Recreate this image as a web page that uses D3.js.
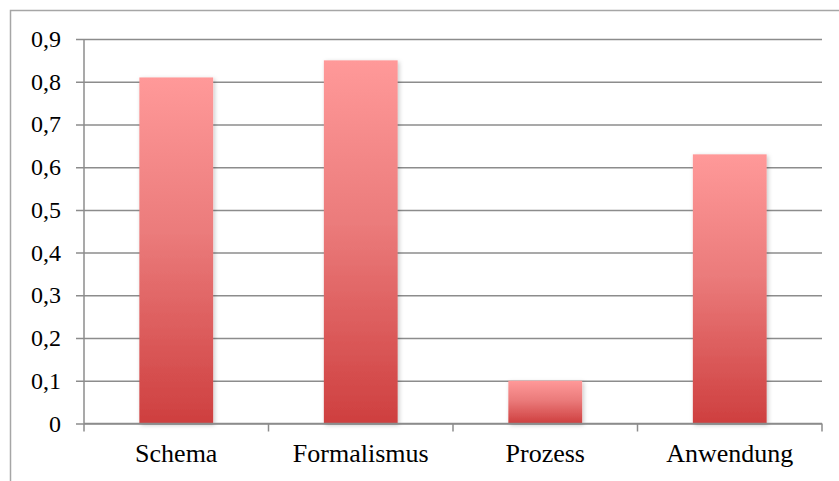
<!DOCTYPE html>
<html>
<head>
<meta charset="utf-8">
<script src="https://cdn.jsdelivr.net/npm/d3@7"></script>
<style>
  html, body { margin: 0; padding: 0; background: #fff; font-family: 'Liberation Serif', serif; }
  #wrap { position: relative; width: 839px; height: 481px; overflow: hidden; }
  svg { display: block; position: absolute; left: 0; top: 0; }
</style>
</head>
<body>
<div id="wrap"><svg id="chart" width="839" height="481"></svg></div>
<script>
// Bar chart data
const categories = ["Schema", "Formalismus", "Prozess", "Anwendung"];
const values = [0.81, 0.85, 0.10, 0.63];
const yTicks = [0, 0.1, 0.2, 0.3, 0.4, 0.5, 0.6, 0.7, 0.8, 0.9];

const W = 839, H = 481;
const plot = { left: 84, right: 822, top: 39, bottom: 423.5 };
const LABEL_CSS = "position:absolute;font-family:'Liberation Serif','Times New Roman',serif;" +
                  "color:#000;line-height:1;white-space:nowrap;";

const wrap = d3.select("#wrap");
const svg = d3.select("#chart");

// Gradient fill and soft shadow for the bars
const defs = svg.append("defs");
const grad = defs.append("linearGradient")
  .attr("id", "barFill").attr("x1", 0).attr("y1", 0).attr("x2", 0).attr("y2", 1);
grad.append("stop").attr("offset", "0%").attr("stop-color", "#FF9999");
grad.append("stop").attr("offset", "45%").attr("stop-color", "#EB7B7B");
grad.append("stop").attr("offset", "100%").attr("stop-color", "#CE3F3F");

const shadow = defs.append("filter").attr("id", "barShadow")
  .attr("x", "-20%").attr("y", "-10%").attr("width", "140%").attr("height", "130%");
shadow.append("feDropShadow").attr("dx", 1.5).attr("dy", 1.5)
  .attr("stdDeviation", 2.2).attr("flood-color", "#000").attr("flood-opacity", 0.22);

// Chart-area frame
svg.append("rect")
  .attr("x", 10.5).attr("y", 10.5).attr("width", W + 20).attr("height", H + 20)
  .attr("fill", "none").attr("stroke", "#A6A6A6").attr("stroke-width", 1.5);

const x = d3.scaleBand().domain(categories).range([plot.left, plot.right])
  .paddingInner(0.6).paddingOuter(0.3);
const y = d3.scaleLinear().domain([0, 0.9]).range([plot.bottom, plot.top]);

const fmt = d => d === 0 ? "0" : d3.format(".1f")(d).replace(".", ",");

// Horizontal gridlines with left tick marks (labels are set as HTML below)
const yAxis = d3.axisLeft(y).tickValues(yTicks)
  .tickSize(-(plot.right - plot.left)).tickSizeOuter(0)
  .tickFormat("");
const gy = svg.append("g").attr("transform", `translate(${plot.left},0)`).call(yAxis);
gy.select(".domain").remove();
gy.selectAll(".tick text").remove();
gy.selectAll(".tick line")
  .attr("x1", -8)
  .attr("stroke", "#8C8C8C").attr("stroke-width", 1.5);

// Vertical axis line
svg.append("line")
  .attr("x1", plot.left).attr("x2", plot.left)
  .attr("y1", plot.top).attr("y2", plot.bottom)
  .attr("stroke", "#8C8C8C").attr("stroke-width", 1.5);

// Bars
svg.append("g").selectAll("rect").data(values).join("rect")
  .attr("x", (d, i) => x(categories[i]))
  .attr("width", x.bandwidth())
  .attr("y", d => y(d))
  .attr("height", d => y(0) - y(d))
  .attr("fill", "url(#barFill)")
  .attr("filter", "url(#barShadow)");

// Category axis: baseline with ticks at band boundaries
const xb = d3.scaleLinear().domain([0, categories.length]).range([plot.left, plot.right]);
const gx = svg.append("g");
gx.append("line")
  .attr("x1", plot.left).attr("x2", plot.right)
  .attr("y1", y(0)).attr("y2", y(0))
  .attr("stroke", "#8C8C8C").attr("stroke-width", 1.5);
gx.selectAll("line.tk").data(d3.range(categories.length + 1)).join("line")
  .attr("class", "tk")
  .attr("x1", d => xb(d)).attr("x2", d => xb(d))
  .attr("y1", y(0)).attr("y2", y(0) + 8)
  .attr("stroke", "#8C8C8C").attr("stroke-width", 1.5);

// Value-axis labels, right-aligned and centred on each gridline
wrap.selectAll("div.ylbl").data(yTicks).join("div")
  .attr("class", "ylbl")
  .attr("style", d => LABEL_CSS + `font-size:24px;right:${W - 61}px;top:${y(d)}px;transform:translateY(-50%);`)
  .text(fmt);

// Category labels, centred under each bar
const catSize = 26;
wrap.selectAll("div.xlbl").data(categories).join("div")
  .attr("class", "xlbl")
  .attr("style", d => LABEL_CSS + `font-size:${catSize}px;left:${x(d) + x.bandwidth() / 2}px;` +
        `top:${463 - 0.8375 * catSize}px;transform:translateX(-50%);`)
  .text(d => d);
</script>
</body>
</html>
